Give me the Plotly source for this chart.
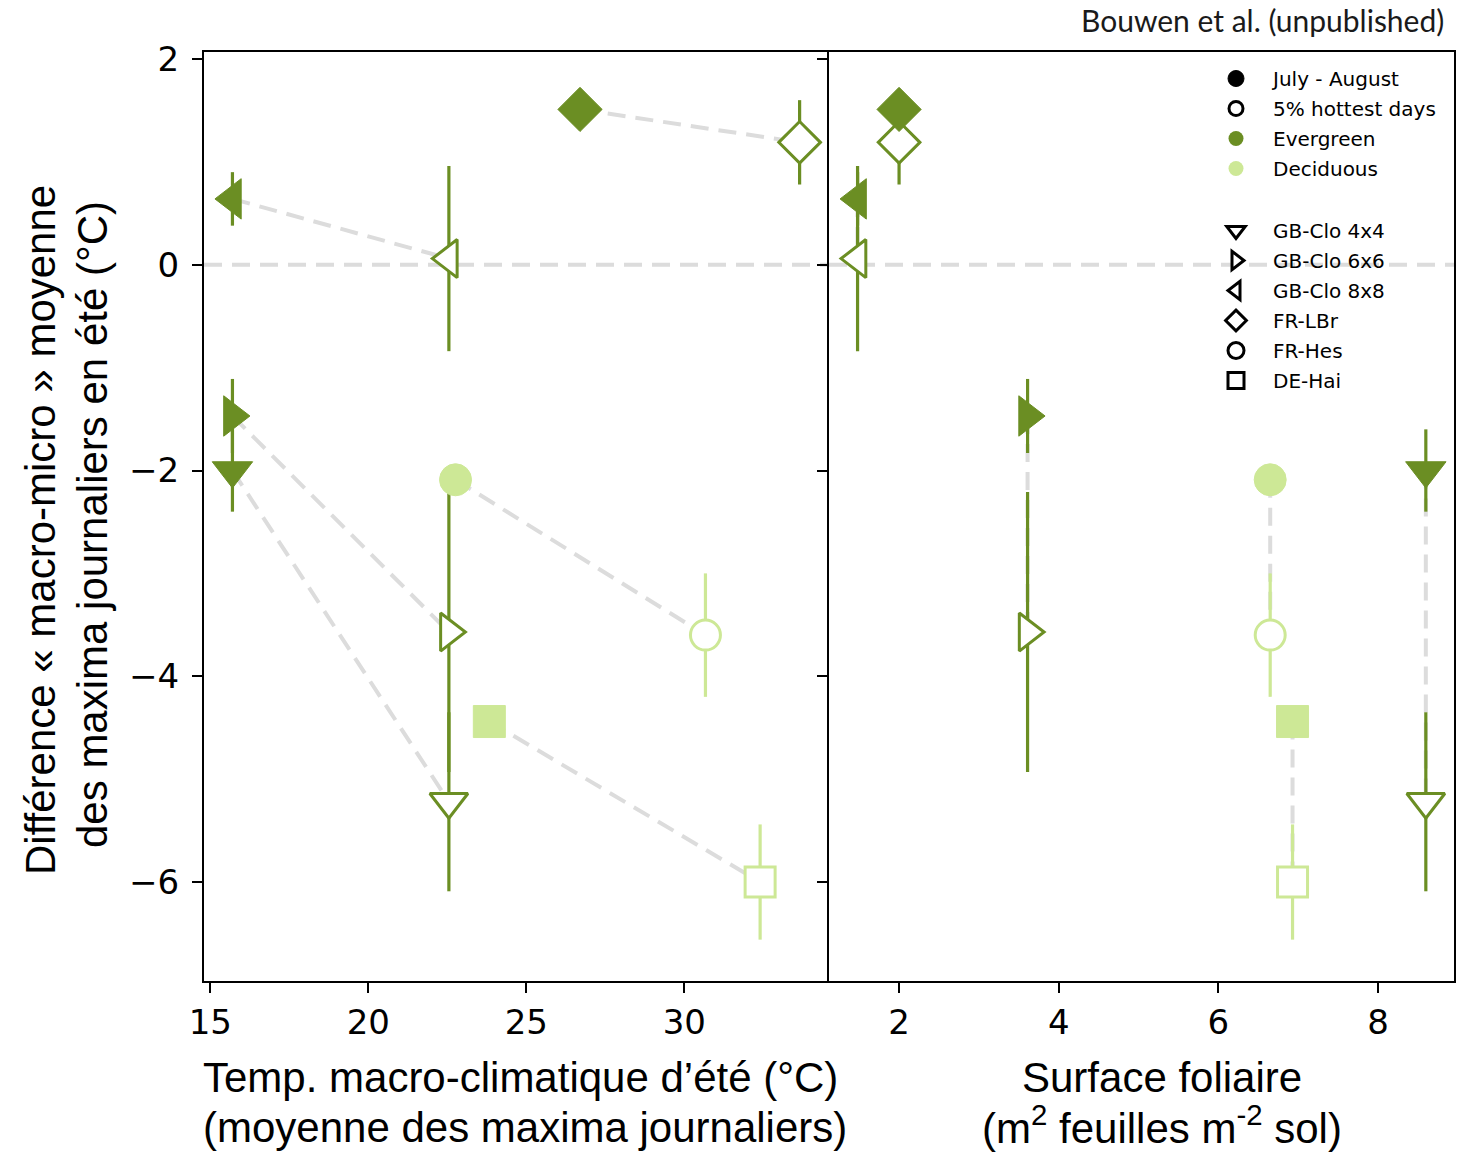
import plotly.graph_objects as go

# ---------------- data ----------------
sites = ["GB-Clo 4x4", "GB-Clo 6x6", "GB-Clo 8x8", "FR-LBr", "FR-Hes", "DE-Hai"]
forest_type = ["Evergreen", "Evergreen", "Evergreen", "Evergreen", "Deciduous", "Deciduous"]
# macro-climatic summer temperature (mean of daily maxima, °C)
temp_jul_aug = [15.7, 15.7, 15.7, 26.7, 22.76, 23.83]
temp_hot5 = [22.55, 22.55, 22.55, 33.65, 30.67, 32.40]
# leaf area index (m2 leaves m-2 ground)
lai = [8.60, 3.61, 1.48, 2.0, 6.65, 6.93]
# macro-micro difference of mean daily maxima (°C) and error
offset_jul_aug = [-2.0, -1.47, 0.64, 1.51, -2.09, -4.44]
err_jul_aug = [0.40, 0.36, 0.26, 0.10, 0.10, 0.10]
offset_hot5 = [-5.22, -3.57, 0.06, 1.19, -3.60, -6.00]
err_hot5 = [0.87, 1.36, 0.90, 0.41, 0.60, 0.56]

period_labels = ["July - August", "5% hottest days"]
type_labels = ["Evergreen", "Deciduous"]

# ---------------- styles ----------------
COLORS = {"Evergreen": "#6b8e23", "Deciduous": "#cde896"}
SYMBOLS = {"GB-Clo 4x4": "triangle-down", "GB-Clo 6x6": "triangle-right",
           "GB-Clo 8x8": "triangle-left", "FR-LBr": "diamond",
           "FR-Hes": "circle", "DE-Hai": "square"}
SIZES = {"triangle-down": 36, "triangle-right": 36, "triangle-left": 36,
         "diamond": 35, "circle": 33, "square": 33}
GRAY = "#dcdcdc"
DASH = "18px,10px"
TICKFONT = dict(family="DejaVu Sans", size=34, color="black")
TITLEFONT = dict(family="Liberation Sans", size=42, color="black")
LEGFONT = dict(family="DejaVu Sans", size=20, color="black")

fig = go.Figure()

panels = [("x", "y", temp_jul_aug, temp_hot5), ("x2", "y2", lai, lai)]

for xa, ya, xf, xo in panels:
    # dashed connectors between July-August and 5% hottest days
    lx, ly = [], []
    for i in range(len(sites)):
        lx += [xf[i], xo[i], None]
        ly += [offset_jul_aug[i], offset_hot5[i], None]
    fig.add_trace(go.Scatter(x=lx, y=ly, mode="lines", xaxis=xa, yaxis=ya,
                             line=dict(color=GRAY, width=4, dash=DASH),
                             showlegend=False, hoverinfo="skip"))
    # error bars (drawn beneath all markers)
    for xs, ys, es in [(xf, offset_jul_aug, err_jul_aug), (xo, offset_hot5, err_hot5)]:
        for t in type_labels:
            idx = [i for i in range(len(sites)) if forest_type[i] == t]
            fig.add_trace(go.Scatter(
                x=[xs[i] for i in idx], y=[ys[i] for i in idx], mode="markers",
                xaxis=xa, yaxis=ya, marker=dict(size=1, opacity=0),
                error_y=dict(type="data", symmetric=True, array=[es[i] for i in idx],
                             color=COLORS[t], thickness=3.2, width=0),
                showlegend=False, hoverinfo="skip"))
    # open markers (5% hottest days)
    for t in type_labels:
        idx = [i for i in range(len(sites)) if forest_type[i] == t]
        syms = [SYMBOLS[sites[i]] for i in idx]
        fig.add_trace(go.Scatter(
            x=[xo[i] for i in idx], y=[offset_hot5[i] for i in idx], mode="markers",
            xaxis=xa, yaxis=ya,
            marker=dict(symbol=syms, size=[SIZES[s] - 3 for s in syms], color="white",
                        opacity=1, line=dict(color=COLORS[t], width=3)),
            showlegend=False, text=[sites[i] for i in idx]))
    # filled markers (July - August)
    for t in type_labels:
        idx = [i for i in range(len(sites)) if forest_type[i] == t]
        syms = [SYMBOLS[sites[i]] for i in idx]
        fig.add_trace(go.Scatter(
            x=[xf[i] for i in idx], y=[offset_jul_aug[i] for i in idx], mode="markers",
            xaxis=xa, yaxis=ya,
            marker=dict(symbol=syms, size=[SIZES[s] - 1 for s in syms], color=COLORS[t],
                        opacity=1, line=dict(color=COLORS[t], width=1)),
            showlegend=False, text=[sites[i] for i in idx]))

# ---------------- legend entries ----------------
leg1 = [
    (period_labels[0], dict(symbol="circle", size=16, color="black", line=dict(color="black", width=1))),
    (period_labels[1], dict(symbol="circle", size=14, color="white", line=dict(color="black", width=3))),
    (type_labels[0], dict(symbol="circle", size=15, color=COLORS["Evergreen"], line=dict(width=0))),
    (type_labels[1], dict(symbol="circle", size=15, color=COLORS["Deciduous"], line=dict(width=0))),
]
for name, mk in leg1:
    fig.add_trace(go.Scatter(x=[None], y=[None], mode="markers", marker=mk, name=name,
                             legend="legend", legendgroup=name, showlegend=True))
for s in sites:
    fig.add_trace(go.Scatter(x=[None], y=[None], mode="markers",
                             marker=dict(symbol=SYMBOLS[s], size=16, color="white",
                                         line=dict(color="black", width=3)),
                             name=s, legend="legend2", legendgroup=s, showlegend=True))

def px_x(p):
    return (p - 204) / 1250.0

def px_y(p):
    return (981 - p) / 929.0

axis_common = dict(showgrid=False, zeroline=False, showline=True, linecolor="black",
                   linewidth=2, ticks="outside", ticklen=10, tickwidth=2,
                   tickcolor="black", tickfont=TICKFONT)

fig.update_layout(
    width=1468, height=1152, autosize=False,
    margin=dict(l=204, r=14, t=52, b=171),
    paper_bgcolor="white", plot_bgcolor="white",
    xaxis=dict(domain=[0, 0.5], range=[14.80, 34.58], tickvals=[15, 20, 25, 30],
               anchor="y", ticklabelstandoff=0, mirror=True, **axis_common),
    xaxis2=dict(domain=[0.5, 1], range=[1.122, 8.953], tickvals=[2, 4, 6, 8],
                anchor="y2", ticklabelstandoff=0, mirror=True, **axis_common),
    yaxis=dict(domain=[0, 1], range=[-6.962, 2.068], tickvals=[-6, -4, -2, 0, 2],
               anchor="x", ticklabelstandoff=6, mirror=False, **axis_common),
    yaxis2=dict(domain=[0, 1], range=[-6.962, 2.068], tickvals=[-6, -4, -2, 0, 2],
                anchor="x2", matches="y", showticklabels=False, mirror=True, **axis_common),
    legend=dict(x=px_x(1199), xanchor="left", y=px_y(59), yanchor="top",
                font=LEGFONT, itemwidth=64, tracegroupgap=1,
                bgcolor="rgba(0,0,0,0)", borderwidth=0),
    legend2=dict(x=px_x(1199), xanchor="left", y=px_y(211), yanchor="top",
                 font=LEGFONT, itemwidth=64, tracegroupgap=1,
                 bgcolor="rgba(0,0,0,0)", borderwidth=0),
    shapes=[
        dict(type="line", xref="x domain", x0=0, x1=1, yref="y", y0=0, y1=0,
             line=dict(color=GRAY, width=4, dash=DASH), layer="below"),
        dict(type="line", xref="x2 domain", x0=0, x1=1, yref="y2", y0=0, y1=0,
             line=dict(color=GRAY, width=4, dash=DASH), layer="below"),
    ],
)

annotations = [
    dict(text="Bouwen et al. (unpublished)", x=px_x(1446), y=px_y(20), xanchor="right",
         yanchor="middle", font=dict(family="Lato", size=30, color="#1a1a1a")),
    dict(text="Temp. macro-climatique d’été (°C)", x=px_x(520), y=px_y(1077),
         xanchor="center", yanchor="middle", font=TITLEFONT),
    dict(text="(moyenne des maxima journaliers)", x=px_x(525), y=px_y(1127),
         xanchor="center", yanchor="middle", font=TITLEFONT),
    dict(text="Surface foliaire", x=px_x(1162), y=px_y(1077),
         xanchor="center", yanchor="middle", font=TITLEFONT),
    dict(text="(m<sup>2</sup> feuilles m<sup>-2</sup> sol)", x=px_x(1162), y=px_y(1125),
         xanchor="center", yanchor="middle", font=TITLEFONT),
    dict(text="Différence « macro-micro » moyenne", x=px_x(40), y=px_y(530),
         xanchor="center", yanchor="middle", textangle=-90, font=TITLEFONT),
    dict(text="des maxima journaliers en été (°C)", x=px_x(92), y=px_y(525),
         xanchor="center", yanchor="middle", textangle=-90, font=TITLEFONT),
]
for a in annotations:
    a.update(xref="paper", yref="paper", showarrow=False)
fig.update_layout(annotations=annotations)

fig.write_html("out.html")
